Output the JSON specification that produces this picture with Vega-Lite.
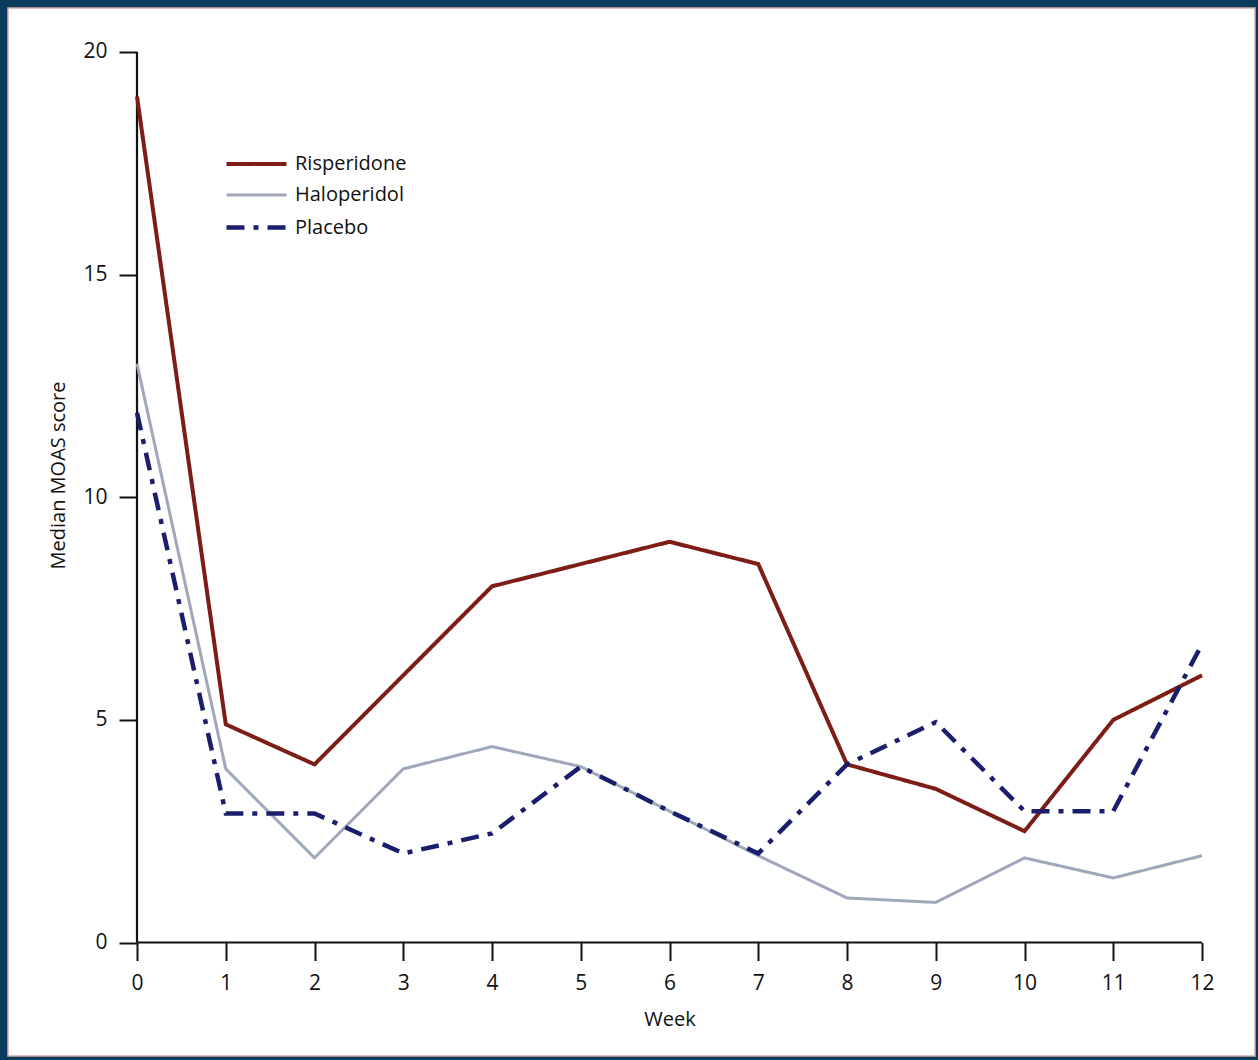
{
  "$schema": "https://vega.github.io/schema/vega-lite/v6.json",
  "width": 1247,
  "height": 1048,
  "autosize": {"type": "none"},
  "padding": {"left": 8, "top": 8, "right": 3, "bottom": 4},
  "background": "#093b5c",
  "config": {
    "view": {"fill": "white", "stroke": "#d9a9a9", "strokeWidth": 1.5},
    "font": "Open Sans",
    "axis": {
      "grid": false, "domain": false, "ticks": true,
      "tickColor": "#111", "tickWidth": 2, "tickSize": 18,
      "labelFont": "Open Sans", "labelFontSize": 21, "labelColor": "#111",
      "titleFont": "Open Sans", "titleFontSize": 20, "titleFontWeight": "normal", "titleColor": "#111"
    },
    "legend": {
      "labelFont": "Open Sans", "labelFontSize": 20, "labelColor": "#111", "padding": 0
    }
  },
  "data": {
    "values": [
      {"week": 0, "score": 19, "series": "Risperidone"},
      {"week": 1, "score": 4.9, "series": "Risperidone"},
      {"week": 2, "score": 4, "series": "Risperidone"},
      {"week": 3, "score": 6, "series": "Risperidone"},
      {"week": 4, "score": 8, "series": "Risperidone"},
      {"week": 5, "score": 8.5, "series": "Risperidone"},
      {"week": 6, "score": 9, "series": "Risperidone"},
      {"week": 7, "score": 8.5, "series": "Risperidone"},
      {"week": 8, "score": 4, "series": "Risperidone"},
      {"week": 9, "score": 3.45, "series": "Risperidone"},
      {"week": 10, "score": 2.5, "series": "Risperidone"},
      {"week": 11, "score": 5, "series": "Risperidone"},
      {"week": 12, "score": 6, "series": "Risperidone"},
      {"week": 0, "score": 13, "series": "Haloperidol"},
      {"week": 1, "score": 3.9, "series": "Haloperidol"},
      {"week": 2, "score": 1.9, "series": "Haloperidol"},
      {"week": 3, "score": 3.9, "series": "Haloperidol"},
      {"week": 4, "score": 4.4, "series": "Haloperidol"},
      {"week": 5, "score": 3.95, "series": "Haloperidol"},
      {"week": 6, "score": 2.95, "series": "Haloperidol"},
      {"week": 7, "score": 1.95, "series": "Haloperidol"},
      {"week": 8, "score": 1, "series": "Haloperidol"},
      {"week": 9, "score": 0.9, "series": "Haloperidol"},
      {"week": 10, "score": 1.9, "series": "Haloperidol"},
      {"week": 11, "score": 1.45, "series": "Haloperidol"},
      {"week": 12, "score": 1.95, "series": "Haloperidol"},
      {"week": 0, "score": 11.9, "series": "Placebo"},
      {"week": 1, "score": 2.9, "series": "Placebo"},
      {"week": 2, "score": 2.9, "series": "Placebo"},
      {"week": 3, "score": 2, "series": "Placebo"},
      {"week": 4, "score": 2.45, "series": "Placebo"},
      {"week": 5, "score": 3.95, "series": "Placebo"},
      {"week": 6, "score": 2.95, "series": "Placebo"},
      {"week": 7, "score": 2, "series": "Placebo"},
      {"week": 8, "score": 4, "series": "Placebo"},
      {"week": 9, "score": 4.95, "series": "Placebo"},
      {"week": 10, "score": 2.95, "series": "Placebo"},
      {"week": 11, "score": 2.95, "series": "Placebo"},
      {"week": 12, "score": 6.7, "series": "Placebo"}
    ]
  },
  "layer": [
    {
      "data": {"values": [{}]},
      "mark": {"type": "rule", "color": "#111", "strokeWidth": 2.2},
      "encoding": {
        "x": {"datum": 0, "type": "quantitative"},
        "x2": {"datum": 12},
        "y": {"datum": 0, "type": "quantitative"}
      }
    },
    {
      "data": {"values": [{}]},
      "mark": {"type": "rule", "color": "#111", "strokeWidth": 2.2},
      "encoding": {
        "x": {"datum": 0, "type": "quantitative"},
        "y": {"datum": 0, "type": "quantitative"},
        "y2": {"datum": 20}
      }
    },
    {
      "mark": {"type": "line", "strokeJoin": "miter", "strokeCap": "butt"},
      "encoding": {
        "x": {
          "field": "week", "type": "quantitative",
          "scale": {"domain": [-1.4535, 12.597], "nice": false, "zero": false},
          "axis": {
            "values": [0, 1, 2, 3, 4, 5, 6, 7, 8, 9, 10, 11, 12], "format": "d",
            "offset": -113.5, "labelPadding": 12,
            "title": "Week", "titleX": 661.5, "titlePadding": 16
          }
        },
        "y": {
          "field": "score", "type": "quantitative",
          "scale": {"domain": [-2.549, 20.988], "nice": false, "zero": false},
          "axis": {
            "values": [0, 5, 10, 15, 20], "format": "d",
            "offset": -129, "labelPadding": 12,
            "title": "Median MOAS score", "titleY": 467, "titlePadding": 14
          }
        },
        "color": {
          "field": "series", "type": "nominal",
          "scale": {"domain": ["Risperidone", "Haloperidol", "Placebo"], "range": ["#7d1d17", "#9ea8b8", "#1b1f6b"]},
          "legend": {
            "title": null, "orient": "none", "legendX": 236, "legendY": 144,
            "symbolType": "M-3,0H3", "symbolSize": 400, "labelOffset": 26, "rowPadding": 9.5
          }
        },
        "strokeDash": {
          "field": "series", "type": "nominal",
          "scale": {"domain": ["Risperidone", "Haloperidol", "Placebo"], "range": [[1, 0], [1, 0], [18, 9, 5, 9]]},
          "legend": {
            "title": null, "orient": "none", "legendX": 236, "legendY": 144,
            "symbolType": "M-3,0H3", "symbolSize": 400, "labelOffset": 26, "rowPadding": 9.5
          }
        },
        "strokeWidth": {
          "field": "series", "type": "nominal",
          "scale": {"type": "ordinal", "domain": ["Risperidone", "Haloperidol", "Placebo"], "range": [4, 3, 4.5]},
          "legend": {
            "title": null, "orient": "none", "legendX": 236, "legendY": 144,
            "symbolType": "M-3,0H3", "symbolSize": 400, "labelOffset": 26, "rowPadding": 9.5
          }
        }
      }
    }
  ]
}
